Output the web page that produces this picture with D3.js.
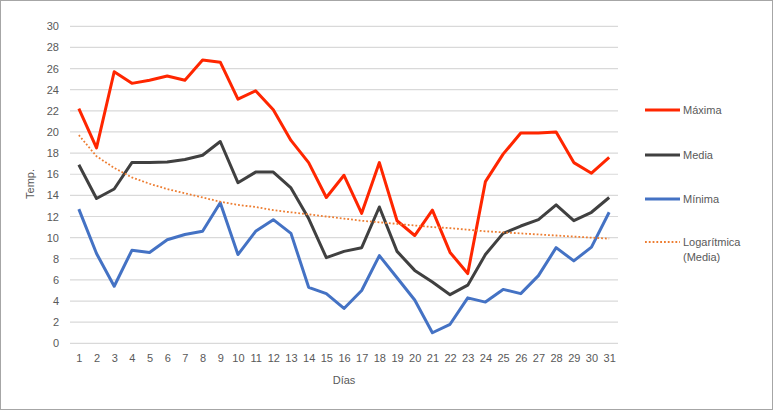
<!DOCTYPE html>
<html>
<head>
<meta charset="utf-8">
<script src="https://cdn.jsdelivr.net/npm/d3@7"></script>
<style>
  html, body { margin: 0; padding: 0; background: #fff; }
  svg { display: block; }
  text { font-family: "Liberation Sans", Arial, sans-serif; fill: #595959; }
</style>
</head>
<body>
<svg id="chart" width="773" height="410"></svg>
<script>
const days = d3.range(1, 32).map(String);
const yTicks = [0, 2, 4, 6, 8, 10, 12, 14, 16, 18, 20, 22, 24, 26, 28, 30];

const maxima = [22.2, 18.5, 25.7, 24.6, 24.9, 25.3, 24.9, 26.8, 26.6, 23.1, 23.9, 22.1, 19.2, 17.1, 13.8, 15.9,
                12.3, 17.1, 11.6, 10.2, 12.6, 8.6, 6.6, 15.3, 17.9, 19.9, 19.9, 20.0, 17.1, 16.1, 17.6];
const media  = [16.9, 13.7, 14.6, 17.1, 17.1, 17.15, 17.4, 17.8, 19.1, 15.2, 16.2, 16.2, 14.7, 11.8, 8.1, 8.7,
                9.05, 12.9, 8.7, 6.9, 5.8, 4.6, 5.5, 8.4, 10.4, 11.1, 11.7, 13.1, 11.6, 12.4, 13.8];
const minima = [12.7, 8.5, 5.4, 8.8, 8.6, 9.8, 10.3, 10.6, 13.3, 8.4, 10.6, 11.7, 10.4, 5.3, 4.7, 3.3,
                5.0, 8.3, 6.2, 4.1, 1.0, 1.8, 4.3, 3.9, 5.1, 4.7, 6.4, 9.05, 7.8, 9.1, 12.4];
const tendencia = [19.7, 17.7, 16.6, 15.7, 15.1, 14.6, 14.2, 13.8, 13.4, 13.1, 12.9, 12.6, 12.4, 12.2, 12.0, 11.8,
                   11.6, 11.45, 11.3, 11.15, 11.0, 10.9, 10.75, 10.6, 10.5, 10.4, 10.3, 10.2, 10.1, 10.0, 9.9];

const seriesNames = ["Máxima", "Media", "Mínima"];
const trendName = ["Logarítmica", "(Media)"];
const colors = ["#ff2600", "#404040", "#4472c4"];
const trendColor = "#ed7d31";

const svg = d3.select("#chart");

// outer border
svg.append("rect").attr("x", 0.5).attr("y", 0.5).attr("width", 772).attr("height", 409)
  .attr("fill", "#fff").attr("stroke", "#a6a6a6").attr("stroke-width", 1);

const x = d3.scalePoint().domain(days).range([70, 618]).padding(0.5);
const y = d3.scaleLinear().domain([0, 30]).range([343.3, 26.3]);

// gridlines
svg.append("g").selectAll("line").data(yTicks).join("line")
  .attr("x1", 70).attr("x2", 618)
  .attr("y1", d => y(d)).attr("y2", d => y(d))
  .attr("stroke", "#d9d9d9").attr("stroke-width", 1.2);

// y axis labels
const yAxis = d3.axisLeft(y).tickValues(yTicks).tickSize(0).tickPadding(0);
const gy = svg.append("g").attr("transform", "translate(59,0)").call(yAxis);
gy.select(".domain").remove();
gy.selectAll("text").attr("font-size", 11).attr("fill", "#595959")
  .style("font-family", "'Liberation Sans', Arial, sans-serif");

// x axis labels
const xAxis = d3.axisBottom(x).tickSize(0).tickPadding(0);
const gx = svg.append("g").attr("transform", "translate(0,354)").call(xAxis);
gx.select(".domain").remove();
gx.selectAll("text").attr("font-size", 11).attr("fill", "#595959")
  .style("font-family", "'Liberation Sans', Arial, sans-serif");

// axis titles
svg.append("text").attr("x", 344).attr("y", 384).attr("text-anchor", "middle")
  .attr("font-size", 11).text("Días");
svg.append("text").attr("transform", "translate(34,184) rotate(-90)").attr("text-anchor", "middle")
  .attr("font-size", 11).text("Temp.");

const line = d3.line().x((d, i) => x(days[i])).y(d => y(d));

// trend line (drawn under? Excel draws trendline on top)
[maxima, media, minima].forEach((s, k) => {
  svg.append("path").datum(s).attr("d", line).attr("fill", "none")
    .attr("stroke", colors[k]).attr("stroke-width", 3).attr("stroke-linejoin", "round");
});
svg.append("path").datum(tendencia).attr("d", line).attr("fill", "none")
  .attr("stroke", trendColor).attr("stroke-width", 1.8).attr("stroke-dasharray", "1.8,2");

// legend
const legY = [110, 155, 199];
seriesNames.forEach((n, k) => {
  svg.append("line").attr("x1", 645).attr("x2", 680).attr("y1", legY[k]).attr("y2", legY[k])
    .attr("stroke", colors[k]).attr("stroke-width", 3);
  svg.append("text").attr("x", 683).attr("y", legY[k] + 4).attr("font-size", 11).text(n);
});
svg.append("line").attr("x1", 645).attr("x2", 680).attr("y1", 242).attr("y2", 242)
  .attr("stroke", trendColor).attr("stroke-width", 1.8).attr("stroke-dasharray", "1.8,2");
svg.append("text").attr("x", 683).attr("y", 246).attr("font-size", 11).text(trendName[0]);
svg.append("text").attr("x", 683).attr("y", 261).attr("font-size", 11).text(trendName[1]);
</script>
</body>
</html>
